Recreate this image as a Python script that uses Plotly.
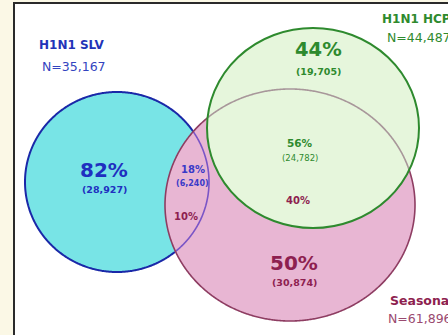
import numpy as np
import plotly.graph_objects as go

# ---------------- data ----------------
set_names = ["H1N1 SLV", "H1N1 HCP", "Seasonal"]
set_sizes = [35167, 44487, 61896]

slv_only_pct, slv_only_n = 82, 28927
slv_seas_pct, slv_seas_n = 18, 6240
seas_slv_pct = 10
hcp_only_pct, hcp_only_n = 44, 19705
hcp_seas_pct, hcp_seas_n = 56, 24782
seas_hcp_pct = 40
seas_only_pct, seas_only_n = 50, 30874

# ---------------- geometry (pixel space) ----------------
W, H = 448, 335
E_SLV = (117, 182, 92, 90)
E_HCP = (313, 128, 106, 100)
E_SEA = (290, 205, 125, 116)

BLUE = "#2233B8"
GREEN = "#2E8A2E"
MAROON = "#8E1F50"
FONT = "DejaVu Sans"


def ell(e, **kw):
    cx, cy, rx, ry = e
    d = dict(type="circle", xref="x", yref="y",
             x0=cx - rx, x1=cx + rx, y0=cy - ry, y1=cy + ry)
    d.update(kw)
    return d


def inside(e, x, y):
    cx, cy, rx, ry = e
    return ((x - cx) / rx) ** 2 + ((y - cy) / ry) ** 2 < 1


def split_outline(e, other):
    cx, cy, rx, ry = e
    t = np.linspace(0, 2 * np.pi, 721)
    xs = cx + rx * np.cos(t)
    ys = cy + ry * np.sin(t)
    ins = inside(other, xs, ys)
    k = int(np.argmax(ins != np.roll(ins, 1)))
    xs, ys, ins = np.roll(xs, -k), np.roll(ys, -k), np.roll(ins, -k)
    segs = {True: [], False: []}
    cur = [(xs[0], ys[0])]
    state = ins[0]
    for i in range(1, len(xs)):
        cur.append((xs[i], ys[i]))
        if ins[i] != state:
            segs[state].append(cur)
            cur = [(xs[i], ys[i])]
            state = ins[i]
    cur.append((xs[0], ys[0]))
    segs[state].append(cur)

    def to_path(lst):
        out = ""
        for s in lst:
            out += "M " + " L ".join(f"{a:.2f},{b:.2f}" for a, b in s) + " "
        return out.strip()
    return to_path(segs[True]), to_path(segs[False])


shapes = []
# panel
shapes.append(dict(type="rect", xref="x", yref="y", x0=14, y0=3, x1=470, y1=360,
                   fillcolor="white", line=dict(color="#2a2a2a", width=2), layer="below"))
# SLV fill
shapes.append(ell(E_SLV, fillcolor="#78E4E6", line=dict(width=0)))
blue_in, blue_out = split_outline(E_SLV, E_SEA)
shapes.append(dict(type="path", xref="x", yref="y", path=blue_out,
                   line=dict(color="#1A28A8", width=2)))
# Seasonal fill
shapes.append(ell(E_SEA, fillcolor="#E8B6D3", line=dict(width=0)))
shapes.append(dict(type="path", xref="x", yref="y", path=blue_in,
                   line=dict(color="#7A55C6", width=1.6)))
sea_in, sea_out = split_outline(E_SEA, E_HCP)
shapes.append(dict(type="path", xref="x", yref="y", path=sea_out,
                   line=dict(color="#8E3D62", width=1.6)))
# HCP fill
shapes.append(ell(E_HCP, fillcolor="#E6F6DC", line=dict(width=0)))
shapes.append(dict(type="path", xref="x", yref="y", path=sea_in,
                   line=dict(color="#A8979A", width=1.6)))
shapes.append(ell(E_HCP, line=dict(color="#2E8A2E", width=2)))


def fmt(n):
    return f"({n:,})"


ann = []


def add(x, y, text, size, color, bold=True, anchor="center"):
    ann.append(dict(x=x, y=y, xref="x", yref="y", showarrow=False,
                    text=f"<b>{text}</b>" if bold else text,
                    xanchor=anchor, yanchor="middle",
                    font=dict(family=FONT, size=size, color=color)))


# set labels
add(72, 45, set_names[0], 12, BLUE)
add(74, 66, f"N={set_sizes[0]:,}", 12.5, "#3344C0", bold=False)
add(380, 19, set_names[1], 12, GREEN, anchor="left")
add(385, 37, f"N={set_sizes[1]:,}", 12.5, GREEN, bold=False, anchor="left")
add(388, 300, set_names[2], 12.5, MAROON, anchor="left")
add(386, 318, f"N={set_sizes[2]:,}", 12.5, "#9A4A70", bold=False, anchor="left")

# regions
add(318, 49, f"{hcp_only_pct}%", 19.5, GREEN)
add(318, 71, fmt(hcp_only_n), 9.5, GREEN)
add(104, 170, f"{slv_only_pct}%", 20, "#1F2FC0")
add(104, 189, fmt(slv_only_n), 9.5, "#1F2FC0")
add(193, 169, f"{slv_seas_pct}%", 10, "#3A3AC8")
add(192, 183, fmt(slv_seas_n), 8, "#3A3AC8")
add(186, 216, f"{seas_slv_pct}%", 10, MAROON)
add(300, 143, f"{hcp_seas_pct}%", 10.5, GREEN)
add(300, 158, fmt(hcp_seas_n), 8.5, GREEN, bold=False)
add(298, 200, f"{seas_hcp_pct}%", 10, MAROON)
add(294, 263, f"{seas_only_pct}%", 20, MAROON)
add(294, 282, fmt(seas_only_n), 9.5, MAROON)

fig = go.Figure()
fig.update_layout(
    width=W, height=H, margin=dict(l=0, r=0, t=0, b=0),
    paper_bgcolor="#FBF8E6", plot_bgcolor="rgba(0,0,0,0)",
    xaxis=dict(range=[0, W], visible=False, fixedrange=True),
    yaxis=dict(range=[H, 0], visible=False, fixedrange=True),
    shapes=shapes, annotations=ann, showlegend=False,
)
fig.write_html("out.html")
